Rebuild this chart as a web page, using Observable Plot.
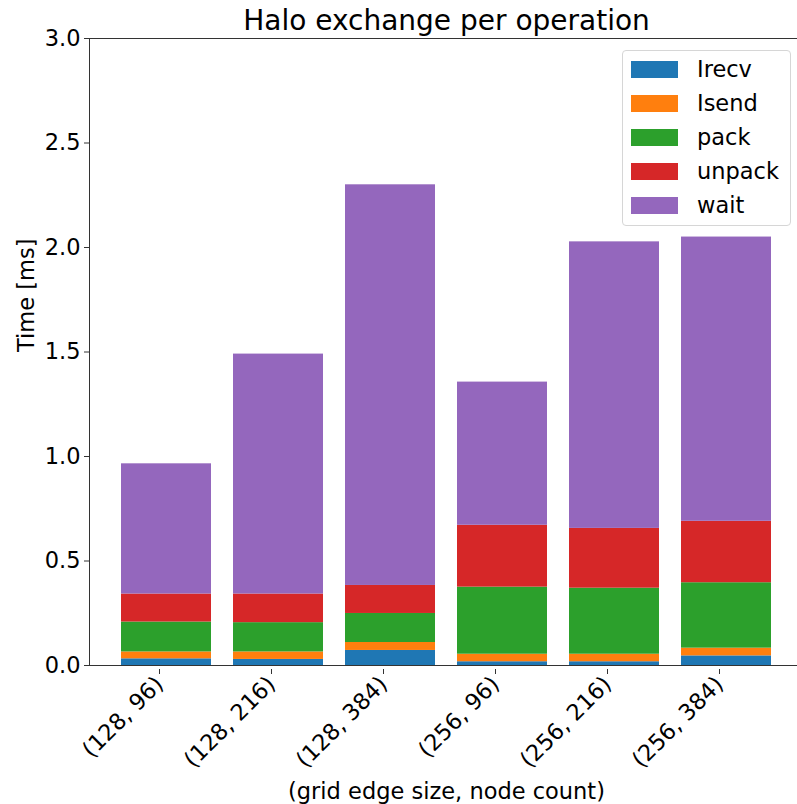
<!DOCTYPE html>
<html>
<head>
<meta charset="utf-8">
<script src="https://cdn.jsdelivr.net/npm/d3@7"></script>
<script src="https://cdn.jsdelivr.net/npm/@observablehq/plot@0.6"></script>
<style>
  html, body { margin: 0; padding: 0; background: #fff; overflow: hidden; }
  #chart { position: relative; width: 797px; height: 804px; font-family: "DejaVu Sans", sans-serif; }
  #legend { position: absolute; left: 622px; top: 50px; width: 169px; height: 176px;
            border: 1px solid #d6d6d6; border-radius: 4px; background: rgba(255,255,255,0.8); box-sizing: border-box; }
  #legend .row { position: absolute; left: 0; height: 34px; display: flex; align-items: center; }
  #legend .sw { width: 47px; height: 17px; margin-left: 8px; }
  #legend .lbl { margin-left: 19px; font-size: 22.5px; color: #000; }
</style>
</head>
<body>
<div id="chart"></div>
<script>
// Configurations: (grid edge size, node count)
const configs = ["(128, 96)", "(128, 216)", "(128, 384)", "(256, 96)", "(256, 216)", "(256, 384)"];
// Stack components, bottom to top
const ops = ["Irecv", "Isend", "pack", "unpack", "wait"];
const opColors = ["#1f77b4", "#ff7f0e", "#2ca02c", "#d62728", "#9467bd"];

// Time per operation [ms]
const irecv  = [0.032, 0.029, 0.072, 0.018, 0.018, 0.046];
const isend  = [0.033, 0.036, 0.038, 0.036, 0.036, 0.037];
const pack   = [0.143, 0.140, 0.139, 0.321, 0.316, 0.313];
const unpack = [0.134, 0.137, 0.134, 0.296, 0.286, 0.294];
const wait   = [0.623, 1.148, 1.917, 0.685, 1.371, 1.360];

const yTicks = [0, 0.5, 1.0, 1.5, 2.0, 2.5, 3.0];
const yDomain = [0, 3];

const series = [irecv, isend, pack, unpack, wait];
const rows = [];
configs.forEach((c, i) => {
  ops.forEach((op, k) => rows.push({config: c, op, time: series[k][i]}));
});

const fontSize = 22.5;

const plot = Plot.plot({
  width: 797,
  height: 804,
  marginLeft: 89,
  marginRight: -6,
  marginTop: 38,
  marginBottom: 139,
  style: {fontFamily: "DejaVu Sans, sans-serif", fontSize: fontSize + "px", color: "#000", background: "#fff"},
  x: {domain: configs, paddingInner: 0.2, paddingOuter: 0.283, align: 0.5},
  y: {domain: yDomain},
  color: {domain: ops, range: opColors},
  marks: [
    Plot.barY(rows, {x: "config", y: "time", fill: "op"}),
    Plot.frame({stroke: "#333", strokeWidth: 1}),
    Plot.axisY({ticks: yTicks, tickFormat: d3.format(".1f"), tickSize: 5, tickPadding: 4, fontSize, label: null, stroke: "#333"}),
    Plot.axisX({tickSize: 5, tickPadding: 6, tickRotate: -45, fontSize, label: null, stroke: "#333", dx: -7, dy: 4}),
    Plot.text(["Halo exchange per operation"], {frameAnchor: "top", lineAnchor: "bottom", dy: -9, fontSize: 28}),
    Plot.text(["Time [ms]"], {frameAnchor: "left", rotate: -90, lineAnchor: "middle", dx: -63, fontSize}),
    Plot.text(["(grid edge size, node count)"], {frameAnchor: "bottom", lineAnchor: "bottom", dy: 133, fontSize})
  ]
});

const chart = document.getElementById("chart");
chart.appendChild(plot);

// Legend box in the upper right of the axes
const legend = document.createElement("div");
legend.id = "legend";
ops.forEach((op, k) => {
  const row = document.createElement("div");
  row.className = "row";
  row.style.top = (1 + k * 34) + "px";
  const sw = document.createElement("div");
  sw.className = "sw";
  sw.style.background = opColors[k];
  const lbl = document.createElement("span");
  lbl.className = "lbl";
  lbl.textContent = op;
  row.appendChild(sw);
  row.appendChild(lbl);
  legend.appendChild(row);
});
chart.appendChild(legend);
</script>
</body>
</html>
